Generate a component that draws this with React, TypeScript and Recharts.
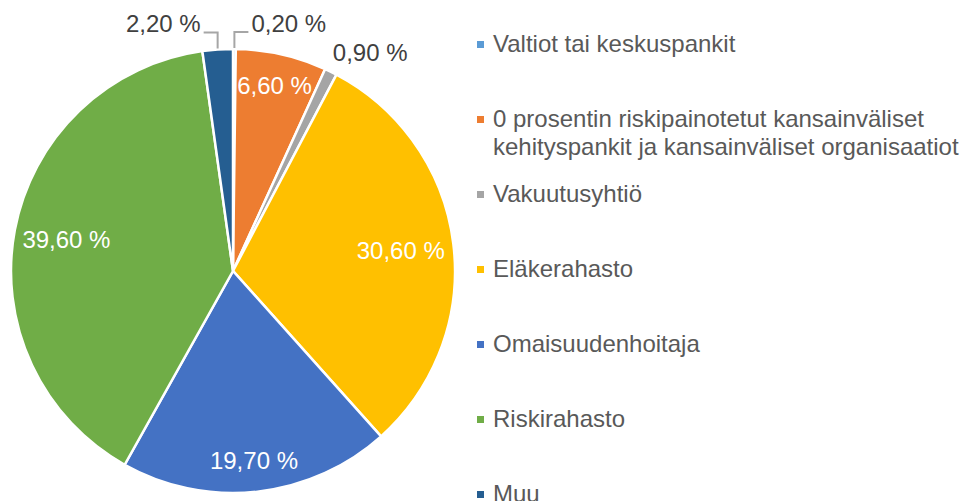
import React from "react";
import { Cell, Legend, Pie, PieChart } from "recharts";

// Ownership split by holder type, share of total (%)
const categories = [
  "Valtiot tai keskuspankit",
  "0 prosentin riskipainotetut kansainväliset kehityspankit ja kansainväliset organisaatiot",
  "Vakuutusyhtiö",
  "Eläkerahasto",
  "Omaisuudenhoitaja",
  "Riskirahasto",
  "Muu",
];
const shares = [0.2, 6.6, 0.9, 30.6, 19.7, 39.6, 2.2];
const colors = ["#5B9BD5", "#ED7D31", "#A5A5A5", "#FFC000", "#4472C4", "#70AD47", "#255E91"];

const FONT = '"Liberation Sans", Arial, sans-serif';

document.body.style.margin = "0";

const data = categories.map((name, i) => ({ name, value: shares[i] }));

const fmt = (v: number) => `${v.toFixed(2).replace(".", ",")} %`;

function renderLabel(props: any) {
  const { cx, cy, midAngle, outerRadius, value } = props;
  const rad = (-midAngle * Math.PI) / 180;
  const cos = Math.cos(rad);
  const sin = Math.sin(rad);

  // big slices: white label inside, pushed a bit further out near top/bottom
  if (value >= 5) {
    const r = outerRadius * (0.76 + 0.1 * sin * sin);
    return (
      <text
        x={cx + r * cos}
        y={cy + r * sin}
        fill="#fff"
        fontSize={24}
        fontFamily={FONT}
        textAnchor="middle"
        dominantBaseline="central"
      >
        {fmt(value)}
      </text>
    );
  }

  const ex = cx + outerRadius * cos;
  const ey = cy + outerRadius * sin;

  // slivers at the top get an elbow leader line
  if (Math.abs(cos) < 0.1) {
    const dir = cos >= 0 ? 1 : -1;
    const topY = ey - 17;
    return (
      <g>
        <path
          d={`M${ex},${ey - 1} L${ex},${topY} L${ex + dir * 14},${topY}`}
          stroke="#A6A6A6"
          strokeWidth={2}
          fill="none"
        />
        <text
          x={ex + dir * 17}
          y={topY - 9}
          fill="#404040"
          fontSize={24}
          fontFamily={FONT}
          textAnchor={dir > 0 ? "start" : "end"}
          dominantBaseline="central"
        >
          {fmt(value)}
        </text>
      </g>
    );
  }

  return (
    <text
      x={ex + (cos > 0 ? 2 : -2)}
      y={ey - 19}
      fill="#404040"
      fontSize={24}
      fontFamily={FONT}
      textAnchor={cos > 0 ? "start" : "end"}
      dominantBaseline="central"
    >
      {fmt(value)}
    </text>
  );
}

function LegendList() {
  return (
    <div style={{ fontFamily: FONT, fontSize: 24, color: "#595959" }}>
      {categories.map((name, i) => (
        <div key={name} style={{ height: 75, display: "flex", alignItems: "flex-start" }}>
          <span
            style={{
              display: "inline-block",
              width: 7,
              height: 7,
              marginTop: 11,
              marginRight: 9,
              background: colors[i],
              flex: "none",
            }}
          />
          <span style={{ lineHeight: "28px", width: 470 }}>{name}</span>
        </div>
      ))}
    </div>
  );
}

export default function App() {
  return (
    <div style={{ width: 961, height: 501, overflow: "hidden", fontFamily: FONT }}>
      <PieChart width={961} height={501} margin={{ top: 0, right: 0, bottom: 0, left: 0 }}>
        <Pie
          data={data}
          dataKey="value"
          nameKey="name"
          cx={233}
          cy={271}
          outerRadius={222}
          startAngle={90}
          endAngle={-270}
          stroke="#fff"
          strokeWidth={2.5}
          label={renderLabel}
          labelLine={false}
          isAnimationActive={false}
        >
          {data.map((d, i) => (
            <Cell key={d.name} fill={colors[i]} />
          ))}
        </Pie>
        <Legend
          content={() => <LegendList />}
          wrapperStyle={{ position: "absolute", left: 477, top: 30, width: 484 }}
        />
      </PieChart>
    </div>
  );
}
